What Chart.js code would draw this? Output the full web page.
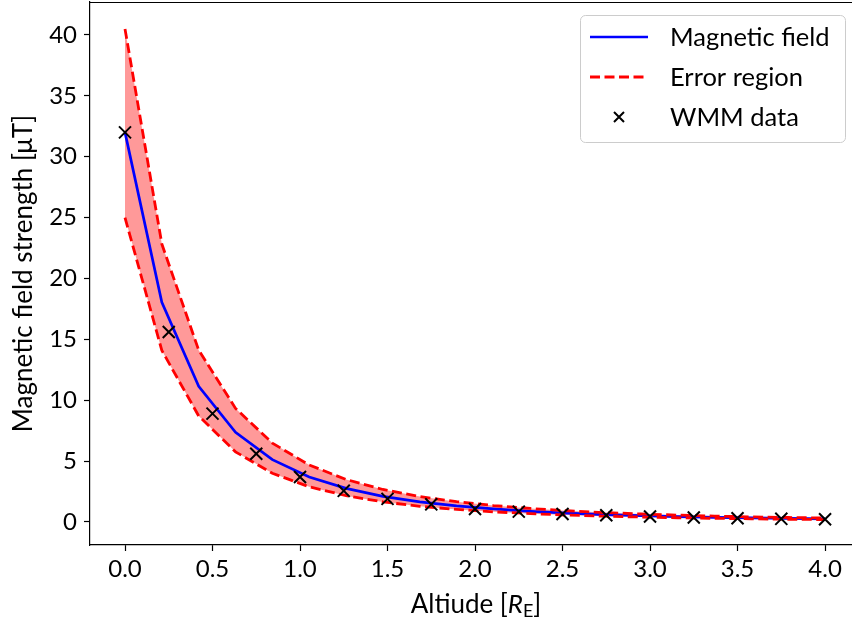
<!DOCTYPE html>
<html>
<head>
<meta charset="utf-8">
<script src="https://cdn.jsdelivr.net/npm/chart.js@4.4.1/dist/chart.umd.min.js"></script>
<style>
  body { margin: 0; background: #fff; }
  canvas { display: block; }
</style>
</head>
<body>
<canvas id="chart" width="852" height="623"></canvas>
<script>
// model curve (20 samples)
const altitudeModel = [0, 0.2105, 0.4211, 0.6316, 0.8421, 1.0526, 1.2632, 1.4737, 1.6842, 1.8947,
                       2.1053, 2.3158, 2.5263, 2.7368, 2.9474, 3.1579, 3.3684, 3.5789, 3.7895, 4.0];
const fieldModel = [32.0, 18.04, 11.15, 7.37, 5.12, 3.70, 2.76, 2.11, 1.65, 1.32,
                    1.07, 0.878, 0.730, 0.613, 0.520, 0.445, 0.384, 0.333, 0.291, 0.256];
const fieldUpper = [40.5, 22.83, 14.11, 9.33, 6.48, 4.68, 3.49, 2.67, 2.09, 1.67,
                    1.35, 1.11, 0.924, 0.776, 0.658, 0.563, 0.486, 0.422, 0.369, 0.324];
const fieldLower = [25.0, 14.09, 8.71, 5.76, 4.00, 2.89, 2.16, 1.65, 1.29, 1.03,
                    0.836, 0.686, 0.570, 0.479, 0.406, 0.348, 0.300, 0.260, 0.227, 0.200];

// WMM reference points
const altitudeWmm = [0, 0.25, 0.5, 0.75, 1.0, 1.25, 1.5, 1.75, 2.0, 2.25, 2.5, 2.75, 3.0, 3.25, 3.5, 3.75, 4.0];
const fieldWmm = [32.0, 15.6, 8.9, 5.6, 3.7, 2.56, 1.9, 1.45, 1.07, 0.85, 0.66, 0.55, 0.45, 0.37, 0.31, 0.26, 0.22];

const xTicks = [0, 0.5, 1.0, 1.5, 2.0, 2.5, 3.0, 3.5, 4.0];
const yTicks = [0, 5, 10, 15, 20, 25, 30, 35, 40];

const FONT = 'Lato, "DejaVu Sans", sans-serif';

function toPoints(xs, ys) {
    return xs.map((x, i) => ({ x: x, y: ys[i] }));
}

// top spine + axis titles
const framePlugin = {
    id: 'frame',
    afterDraw(chart) {
        const ctx = chart.ctx;
        const area = chart.chartArea;
        ctx.save();
        ctx.strokeStyle = '#000';
        ctx.lineWidth = 1.2;
        ctx.beginPath();
        ctx.moveTo(area.left, area.top + 0.5);
        ctx.lineTo(area.right, area.top + 0.5);
        ctx.stroke();

        ctx.fillStyle = '#000';
        ctx.textBaseline = 'alphabetic';

        // x title: Altiude [R_E]
        const parts = [
            { t: 'Altiude [', f: '26px ' + FONT, dy: 0 },
            { t: 'R', f: 'italic 26px ' + FONT, dy: 0 },
            { t: 'E', f: '18px ' + FONT, dy: 4 },
            { t: ']', f: '26px ' + FONT, dy: 0 }
        ];
        let total = 0;
        parts.forEach(p => { ctx.font = p.f; p.w = ctx.measureText(p.t).width; total += p.w; });
        let x = 476 - total / 2;
        const base = 613;
        parts.forEach(p => {
            ctx.font = p.f;
            ctx.textAlign = 'left';
            ctx.fillText(p.t, x, base + p.dy);
            x += p.w;
        });

        // y title
        ctx.translate(32, 273.5);
        ctx.rotate(-Math.PI / 2);
        ctx.font = '26px ' + FONT;
        ctx.textAlign = 'center';
        ctx.fillText('Magnetic field strength [\u03BCT]', 0, 0);
        ctx.restore();
    }
};

// matplotlib-like legend box
const legendPlugin = {
    id: 'boxLegend',
    afterDraw(chart) {
        const ctx = chart.ctx;
        const ds = chart.data.datasets;
        const entries = [ds[3], ds[1], ds[0]];
        const bx = 580, by = 15, bw = 265, bh = 127, r = 5;
        ctx.save();
        ctx.fillStyle = 'rgba(255,255,255,0.8)';
        ctx.strokeStyle = '#cccccc';
        ctx.lineWidth = 1;
        ctx.beginPath();
        ctx.roundRect(bx + 0.5, by + 0.5, bw, bh, r);
        ctx.fill();
        ctx.stroke();

        entries.forEach((d, i) => {
            const y = 37 + i * 40;
            if (d.showLine === false) {
                ctx.strokeStyle = d.pointBorderColor;
                ctx.lineWidth = 2;
                ctx.setLineDash([]);
                ctx.beginPath();
                ctx.moveTo(619 - 5, y - 5); ctx.lineTo(619 + 5, y + 5);
                ctx.moveTo(619 - 5, y + 5); ctx.lineTo(619 + 5, y - 5);
                ctx.stroke();
            } else {
                ctx.strokeStyle = d.borderColor;
                ctx.lineWidth = d.borderWidth;
                ctx.setLineDash(d.borderDash || []);
                ctx.beginPath();
                ctx.moveTo(590, y);
                ctx.lineTo(648, y);
                ctx.stroke();
            }
            ctx.setLineDash([]);
            ctx.fillStyle = '#000';
            ctx.font = '25.5px ' + FONT;
            ctx.textAlign = 'left';
            ctx.textBaseline = 'middle';
            ctx.fillText(d.label, 670, y + 1);
        });
        ctx.restore();
    }
};

const ctx = document.getElementById('chart').getContext('2d');

new Chart(ctx, {
    type: 'line',
    data: {
        datasets: [
            {
                label: 'WMM data',
                data: toPoints(altitudeWmm, fieldWmm),
                showLine: false,
                pointStyle: 'crossRot',
                pointRadius: 8.5,
                pointBorderWidth: 2,
                pointBorderColor: '#000',
                pointBackgroundColor: '#000'
            },
            {
                label: 'Error region',
                data: toPoints(altitudeModel, fieldUpper),
                borderColor: '#ff0000',
                borderWidth: 2.8,
                borderDash: [10, 4.5],
                pointRadius: 0,
                fill: '+1',
                backgroundColor: 'rgba(255, 0, 0, 0.4)'
            },
            {
                label: 'Error region lower',
                data: toPoints(altitudeModel, fieldLower),
                borderColor: '#ff0000',
                borderWidth: 2.8,
                borderDash: [10, 4.5],
                pointRadius: 0,
                fill: false
            },
            {
                label: 'Magnetic field',
                data: toPoints(altitudeModel, fieldModel),
                borderColor: '#0000ff',
                borderWidth: 2.7,
                pointRadius: 0,
                fill: false
            }
        ]
    },
    options: {
        responsive: false,
        animation: false,
        devicePixelRatio: 1,
        layout: { autoPadding: false, padding: { top: 2, right: 0, left: 0, bottom: 0 } },
        elements: { line: { tension: 0 } },
        plugins: {
            legend: { display: false },
            tooltip: { enabled: false },
            filler: { drawTime: 'beforeDatasetsDraw' }
        },
        scales: {
            x: {
                type: 'linear',
                min: -0.2,
                max: 4.154,
                afterBuildTicks: scale => { scale.ticks = xTicks.map(v => ({ value: v })); },
                afterFit: scale => {
                    scale.height = 78;
                    scale.paddingLeft = 0;
                    scale.paddingRight = 0;
                },
                ticks: {
                    color: '#000',
                    font: { family: FONT, size: 24 },
                    padding: 4,
                    callback: v => v.toFixed(1)
                },
                grid: { drawOnChartArea: false, tickLength: 6, tickColor: '#000', tickWidth: 1.2 },
                border: { color: '#000', width: 1.2 }
            },
            y: {
                type: 'linear',
                min: -1.89,
                max: 42.71,
                afterBuildTicks: scale => { scale.ticks = yTicks.map(v => ({ value: v })); },
                afterFit: scale => {
                    scale.width = 90;
                    scale.paddingTop = 0;
                    scale.paddingBottom = 0;
                },
                ticks: {
                    color: '#000',
                    font: { family: FONT, size: 24 },
                    padding: 7,
                    callback: v => String(v)
                },
                grid: { drawOnChartArea: false, tickLength: 6, tickColor: '#000', tickWidth: 1.2 },
                border: { color: '#000', width: 1.2 }
            }
        }
    },
    plugins: [framePlugin, legendPlugin]
});
</script>
</body>
</html>
